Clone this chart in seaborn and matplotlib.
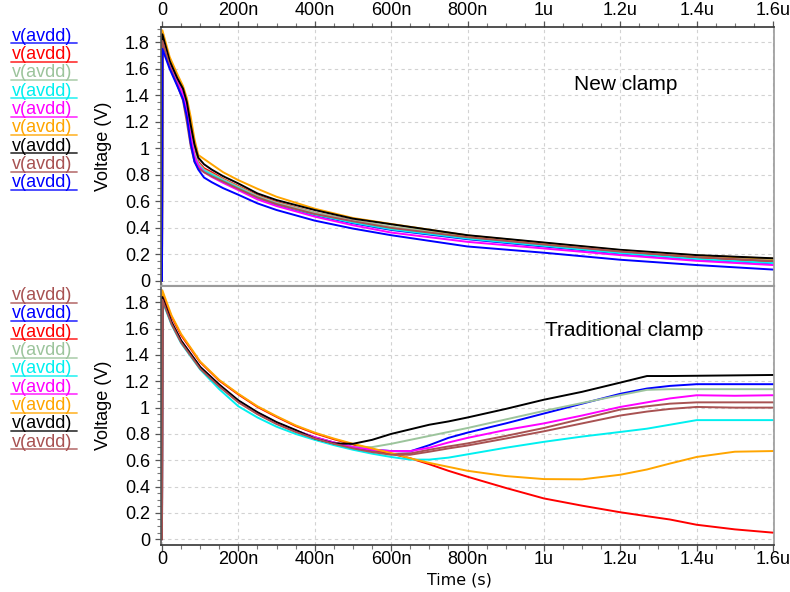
import matplotlib
matplotlib.use("Agg")
import matplotlib.pyplot as plt
from matplotlib.lines import Line2D
from matplotlib.ticker import MultipleLocator, FuncFormatter
import numpy as np
import pandas as pd
import seaborn as sns

# ---------------------------------------------------------------- data
# time axis in ns
T_NEW = [0, 1, 20, 40, 55, 65, 75, 85, 95, 110, 130, 160, 200, 250, 300,
         400, 500, 600, 800, 1000, 1200, 1400, 1600]

new_blue_a = [0, 1.80, 1.62, 1.49, 1.40, 1.28, 1.10, 0.95, 0.88, 0.83, 0.80, 0.755, 0.70, 0.628, 0.575,
              0.495, 0.435, 0.385, 0.315, 0.26, 0.207, 0.163, 0.133]
new_red = [0, 1.85, 1.65, 1.52, 1.43, 1.32, 1.14, 0.99, 0.90, 0.85, 0.82, 0.77, 0.715, 0.645, 0.595,
           0.515, 0.455, 0.405, 0.33, 0.275, 0.22, 0.175, 0.145]
new_sage = [0, 1.84, 1.64, 1.51, 1.42, 1.30, 1.12, 0.97, 0.89, 0.84, 0.81, 0.765, 0.71, 0.64, 0.59,
            0.515, 0.455, 0.41, 0.335, 0.28, 0.225, 0.185, 0.155]
new_cyan = [0, 1.82, 1.63, 1.50, 1.40, 1.26, 1.07, 0.93, 0.87, 0.83, 0.80, 0.755, 0.70, 0.63, 0.58,
            0.50, 0.44, 0.39, 0.32, 0.265, 0.21, 0.165, 0.135]
new_magenta = [0, 1.83, 1.63, 1.50, 1.41, 1.28, 1.09, 0.94, 0.87, 0.82, 0.785, 0.74, 0.685, 0.615, 0.565,
               0.485, 0.42, 0.365, 0.295, 0.245, 0.195, 0.152, 0.12]
new_orange = [0, 1.89, 1.69, 1.56, 1.47, 1.38, 1.24, 1.07, 0.95, 0.92, 0.88, 0.82, 0.76, 0.695, 0.635,
              0.545, 0.475, 0.43, 0.343, 0.287, 0.232, 0.192, 0.168]
new_black = [0, 1.86, 1.66, 1.53, 1.45, 1.35, 1.18, 1.03, 0.93, 0.88, 0.84, 0.79, 0.735, 0.66, 0.61,
             0.535, 0.47, 0.428, 0.345, 0.29, 0.235, 0.195, 0.171]
new_brown = [0, 1.81, 1.62, 1.48, 1.36, 1.20, 1.02, 0.90, 0.85, 0.82, 0.79, 0.75, 0.695, 0.63, 0.58,
             0.505, 0.45, 0.40, 0.33, 0.275, 0.222, 0.18, 0.15]
new_blue_b = [0, 1.75, 1.60, 1.47, 1.37, 1.24, 1.04, 0.90, 0.84, 0.78, 0.745, 0.70, 0.65, 0.585, 0.535,
              0.455, 0.395, 0.345, 0.26, 0.213, 0.16, 0.12, 0.086]

T_OLD = [0, 1, 25, 50, 100, 150, 200, 250, 300, 350, 400, 450, 500, 550, 600, 650, 700,
         750, 800, 900, 1000, 1100, 1200, 1270, 1330, 1400, 1500, 1600]

old_brown_a = [0, 1.83, 1.64, 1.50, 1.30, 1.165, 1.045, 0.955, 0.88, 0.82, 0.77, 0.73, 0.695, 0.668,
               0.648, 0.652, 0.68, 0.705, 0.728, 0.785, 0.845, 0.915, 0.985, 1.01, 1.03, 1.04, 1.04, 1.04]
old_blue = [0, 1.835, 1.645, 1.505, 1.305, 1.17, 1.05, 0.96, 0.885, 0.825, 0.775, 0.735, 0.70, 0.68,
            0.67, 0.668, 0.715, 0.77, 0.81, 0.88, 0.955, 1.03, 1.105, 1.145, 1.165, 1.178, 1.178, 1.178]
old_red = [0, 1.86, 1.69, 1.55, 1.345, 1.205, 1.10, 1.005, 0.93, 0.86, 0.805, 0.76, 0.72, 0.685,
           0.65, 0.615, 0.57, 0.52, 0.475, 0.39, 0.31, 0.255, 0.205, 0.175, 0.15, 0.11, 0.075, 0.05]
old_sage = [0, 1.83, 1.645, 1.505, 1.305, 1.17, 1.05, 0.96, 0.885, 0.825, 0.775, 0.735, 0.70, 0.70,
            0.725, 0.755, 0.785, 0.815, 0.845, 0.91, 0.975, 1.035, 1.095, 1.135, 1.14, 1.14, 1.14, 1.14]
old_cyan = [0, 1.81, 1.63, 1.49, 1.29, 1.14, 1.01, 0.925, 0.855, 0.80, 0.755, 0.715, 0.68, 0.65,
            0.625, 0.605, 0.605, 0.62, 0.645, 0.695, 0.74, 0.78, 0.815, 0.84, 0.87, 0.905, 0.905, 0.905]
old_magenta = [0, 1.835, 1.645, 1.505, 1.305, 1.17, 1.05, 0.96, 0.885, 0.825, 0.775, 0.735, 0.70, 0.68,
               0.67, 0.67, 0.695, 0.735, 0.77, 0.83, 0.88, 0.94, 1.005, 1.04, 1.07, 1.094, 1.09, 1.094]
old_orange = [0, 1.89, 1.70, 1.56, 1.35, 1.21, 1.105, 1.01, 0.935, 0.865, 0.81, 0.765, 0.725, 0.69,
              0.655, 0.615, 0.58, 0.55, 0.52, 0.48, 0.457, 0.455, 0.49, 0.53, 0.575, 0.625, 0.665, 0.67]
old_black = [0, 1.84, 1.65, 1.51, 1.31, 1.175, 1.055, 0.965, 0.89, 0.83, 0.765, 0.728, 0.725, 0.755,
             0.80, 0.835, 0.87, 0.895, 0.925, 0.99, 1.06, 1.12, 1.19, 1.24, 1.24, 1.242, 1.245, 1.248]
old_brown_b = [0, 1.82, 1.635, 1.495, 1.295, 1.16, 1.04, 0.95, 0.875, 0.815, 0.765, 0.725, 0.69, 0.662,
               0.642, 0.642, 0.665, 0.69, 0.712, 0.765, 0.82, 0.88, 0.94, 0.97, 0.99, 1.005, 1.0, 1.0]

TRACE_LABEL = "v(avdd)"
BLUE, RED, SAGE, CYAN = "#0000ff", "#ff0000", "#9cc49c", "#00f0f0"
MAGENTA, ORANGE, BLACK, BROWN = "#ff00ff", "#ffa500", "#000000", "#a85252"

new_traces = [new_blue_a, new_red, new_sage, new_cyan, new_magenta,
              new_orange, new_black, new_brown, new_blue_b]
new_colors = [BLUE, RED, SAGE, CYAN, MAGENTA, ORANGE, BLACK, BROWN, BLUE]

old_traces = [old_brown_a, old_blue, old_red, old_sage, old_cyan,
              old_magenta, old_orange, old_black, old_brown_b]
old_colors = [BROWN, BLUE, RED, SAGE, CYAN, MAGENTA, ORANGE, BLACK, BROWN]


def long_frame(t, traces):
    rows = []
    for i, vals in enumerate(traces):
        rows.append(pd.DataFrame({"t": t, "v": vals, "trace": f"s{i}"}))
    return pd.concat(rows, ignore_index=True)


# ---------------------------------------------------------------- figure
sns.set_theme(style="white")
plt.rcParams["font.family"] = ["Liberation Sans", "DejaVu Sans"]
plt.rcParams["text.color"] = "black"
plt.rcParams["axes.labelcolor"] = "black"

W, H = 790, 592
fig = plt.figure(figsize=(W / 100, H / 100), dpi=100)


def px_rect(x0, y0, x1, y1):
    return [x0 / W, 1 - y1 / H, (x1 - x0) / W, (y1 - y0) / H]


ax1 = fig.add_axes(px_rect(161, 27, 774, 286))
ax2 = fig.add_axes(px_rect(161, 286, 774, 544.5))


def fmt_time(v, pos):
    if abs(v) < 1e-6:
        return "0"
    if v < 1000:
        return f"{int(round(v))}n"
    return f"{v / 1000:g}u"


for ax, t, traces, colors, ylim in [
    (ax1, T_NEW, new_traces, new_colors, (-0.038, 1.915)),
    (ax2, T_OLD, old_traces, old_colors, (-0.04, 1.924)),
]:
    df = long_frame(t, traces)
    pal = {f"s{i}": c for i, c in enumerate(colors)}
    sns.lineplot(data=df, x="t", y="v", hue="trace", palette=pal,
                 hue_order=[f"s{i}" for i in range(len(traces))],
                 estimator=None, sort=False, legend=False,
                 linewidth=1.4, ax=ax)
    ax.set_xlim(-2.6, 1602.6)
    ax.set_ylim(*ylim)
    ax.set_xlabel("")
    ax.set_ylabel("Voltage (V)", fontsize=13, color="black")
    ax.yaxis.set_label_coords(-0.080, 0.538)
    ax.xaxis.set_major_locator(MultipleLocator(200))
    ax.xaxis.set_minor_locator(MultipleLocator(50))
    ax.yaxis.set_major_locator(MultipleLocator(0.2))
    ax.yaxis.set_minor_locator(MultipleLocator(0.05))
    ax.xaxis.set_major_formatter(FuncFormatter(fmt_time))
    ax.yaxis.set_major_formatter(FuncFormatter(lambda v, p: f"{v:g}" if abs(v) > 1e-9 else "0"))
    ax.grid(True, which="major", linestyle=(0, (3, 3)), color="#d2d2d2", linewidth=0.8)
    ax.set_axisbelow(True)
    ax.tick_params(axis="both", which="major", direction="out", length=4,
                   width=0.9, color="#555555", labelsize=13, labelcolor="black")
    ax.tick_params(axis="both", which="minor", direction="out", length=3,
                   width=0.8, color="#777777")
    ax.tick_params(axis="y", which="both", left=True, pad=4)
    for s in ax.spines.values():
        s.set_linewidth(1.2)
    ax.spines["right"].set_color("#9a9a9a")
    ax.spines["left"].set_color("#555555")

# top panel: time axis along the top edge
ax1.tick_params(axis="x", which="both", bottom=False, top=True,
                labelbottom=False, labeltop=True, pad=1.5)
ax1.spines["top"].set_color("#333333")
ax1.spines["bottom"].set_color("#9a9a9a")
ax1.spines["bottom"].set_linewidth(1.5)

ax2.tick_params(axis="x", which="both", bottom=True, top=False,
                labelbottom=True, labeltop=False, pad=0.5)
ax2.spines["bottom"].set_color("#333333")
ax2.spines["top"].set_color("#9a9a9a")
ax2.spines["top"].set_linewidth(1.5)

# panel titles and axis title
fig.text(626 / W, 1 - 84 / H, "New clamp", fontsize=15, ha="center", va="center")
fig.text(624 / W, 1 - 331 / H, "Traditional clamp", fontsize=15, ha="center", va="center")
fig.text(459 / W, 1 - 580 / H, "Time (s)", fontsize=11.4, ha="center", va="center",
         family=["DejaVu Sans"])

# trace name lists with colored underlines
def trace_list(y0, colors):
    step = 18.33
    for i, c in enumerate(colors):
        yc = y0 + i * step
        fig.text(11.5 / W, 1 - yc / H, TRACE_LABEL, color=c, fontsize=13,
                 ha="left", va="center")
        yl = 1 - (yc + 7.2) / H
        fig.add_artist(Line2D([10.5 / W, 77 / W], [yl, yl], color=c,
                              linewidth=1.3, alpha=0.75, transform=fig.transFigure))


trace_list(36.2, new_colors)
trace_list(295.5, old_colors)

fig.savefig("out.png", dpi=100)
